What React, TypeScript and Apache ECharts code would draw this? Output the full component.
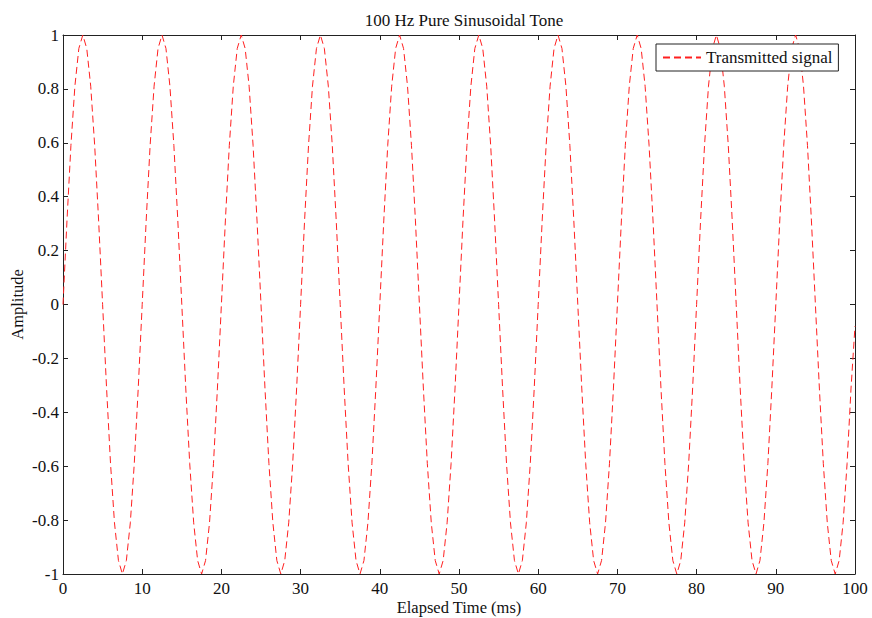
import React, { useEffect, useRef } from "react";
import * as echarts from "echarts";

const chartTitle = "100 Hz Pure Sinusoidal Tone";
const seriesName = "Transmitted signal";
const xAxisName = "Elapsed Time (ms)";
const yAxisName = "Amplitude";
const sampleStepMs = 0.5;

// Amplitude samples, one every 0.5 ms (0 .. 100 ms)
const amplitude: number[] = [
  0, 0.31, 0.59, 0.81, 0.95, 1, 0.95, 0.81, 0.59, 0.31, 0, -0.31, -0.59, -0.81, -0.95, -1, -0.95, -0.81, -0.59, -0.31,
  0, 0.31, 0.59, 0.81, 0.95, 1, 0.95, 0.81, 0.59, 0.31, 0, -0.31, -0.59, -0.81, -0.95, -1, -0.95, -0.81, -0.59, -0.31,
  0, 0.31, 0.59, 0.81, 0.95, 1, 0.95, 0.81, 0.59, 0.31, 0, -0.31, -0.59, -0.81, -0.95, -1, -0.95, -0.81, -0.59, -0.31,
  0, 0.31, 0.59, 0.81, 0.95, 1, 0.95, 0.81, 0.59, 0.31, 0, -0.31, -0.59, -0.81, -0.95, -1, -0.95, -0.81, -0.59, -0.31,
  0, 0.31, 0.59, 0.81, 0.95, 1, 0.95, 0.81, 0.59, 0.31, 0, -0.31, -0.59, -0.81, -0.95, -1, -0.95, -0.81, -0.59, -0.31,
  0, 0.31, 0.59, 0.81, 0.95, 1, 0.95, 0.81, 0.59, 0.31, 0, -0.31, -0.59, -0.81, -0.95, -1, -0.95, -0.81, -0.59, -0.31,
  0, 0.31, 0.59, 0.81, 0.95, 1, 0.95, 0.81, 0.59, 0.31, 0, -0.31, -0.59, -0.81, -0.95, -1, -0.95, -0.81, -0.59, -0.31,
  0, 0.31, 0.59, 0.81, 0.95, 1, 0.95, 0.81, 0.59, 0.31, 0, -0.31, -0.59, -0.81, -0.95, -1, -0.95, -0.81, -0.59, -0.31,
  0, 0.31, 0.59, 0.81, 0.95, 1, 0.95, 0.81, 0.59, 0.31, 0, -0.31, -0.59, -0.81, -0.95, -1, -0.95, -0.81, -0.59, -0.31,
  0, 0.31, 0.59, 0.81, 0.95, 1, 0.95, 0.81, 0.59, 0.31, 0, -0.31, -0.59, -0.81, -0.95, -1, -0.95, -0.81, -0.59, -0.31,
  -0.08,
];

const xMin = 0;
const xMax = 100;
const xInterval = 10;
const yMin = -1;
const yMax = 1;
const yInterval = 0.2;

const FONT = "'Liberation Serif', 'Times New Roman', serif";
const FS = 17;

export default function App() {
  const ref = useRef<HTMLDivElement>(null);

  useEffect(() => {
    if (!ref.current) return;
    const chart = echarts.init(ref.current, undefined, { renderer: "svg" });
    const data = amplitude.map((v, i) => [i * sampleStepMs, v]);

    const axisLine = { show: true, onZero: false, lineStyle: { color: "#222", width: 1 } };
    const tick = { show: true, inside: true, length: 5, lineStyle: { color: "#222", width: 1 } };
    const label = { color: "#111", fontFamily: FONT, fontSize: FS };

    chart.setOption({
      animation: false,
      backgroundColor: "#fff",
      title: {
        text: chartTitle,
        left: 459,
        textAlign: "center",
        top: 7,
        textStyle: { fontFamily: FONT, fontSize: FS, fontWeight: "normal", color: "#111" },
      },
      legend: {
        data: [seriesName],
        left: 656,
        top: 44,
        orient: "vertical",
        backgroundColor: "#fff",
        borderColor: "#222",
        borderWidth: 1,
        padding: [5, 6, 5, 6],
        itemWidth: 38,
        itemHeight: 16,
        itemGap: 0,
        itemStyle: { color: "transparent", borderWidth: 0, opacity: 0 },
        textStyle: { fontFamily: FONT, fontSize: FS, color: "#111" },
      },
      grid: {
        left: 63,
        right: 17,
        top: 35,
        bottom: 44,
        containLabel: false,
        outerBoundsMode: "none",
      },
      xAxis: [
        {
          type: "value",
          min: xMin,
          max: xMax,
          interval: xInterval,
          position: "bottom",
          name: xAxisName,
          nameLocation: "middle",
          nameGap: 25,
          nameMoveOverlap: false,
          nameTextStyle: { fontFamily: FONT, fontSize: 16.5, color: "#111" },
          axisLine,
          axisTick: tick,
          axisLabel: { ...label, margin: 6 },
          splitLine: { show: false },
        },
        {
          type: "value",
          min: xMin,
          max: xMax,
          interval: xInterval,
          position: "top",
          axisLine,
          axisTick: tick,
          axisLabel: { show: false },
          splitLine: { show: false },
        },
      ],
      yAxis: [
        {
          type: "value",
          min: yMin,
          max: yMax,
          interval: yInterval,
          position: "left",
          name: yAxisName,
          nameLocation: "middle",
          nameGap: 37,
          nameMoveOverlap: false,
          nameTextStyle: { fontFamily: FONT, fontSize: 16.5, color: "#111" },
          axisLine,
          axisTick: tick,
          axisLabel: { ...label, margin: 4 },
          splitLine: { show: false },
        },
        {
          type: "value",
          min: yMin,
          max: yMax,
          interval: yInterval,
          position: "right",
          axisLine,
          axisTick: tick,
          axisLabel: { show: false },
          splitLine: { show: false },
        },
      ],
      series: [
        {
          name: seriesName,
          type: "line",
          xAxisIndex: 0,
          yAxisIndex: 0,
          data,
          showSymbol: false,
          symbol: "none",
          smooth: false,
          clip: true,
          lineStyle: { color: "#ff2020", width: 1, type: [7, 4] },
          itemStyle: { color: "#ff2020" },
        },
      ],
    });

    return () => chart.dispose();
  }, []);

  return <div ref={ref} style={{ width: 872, height: 618, position: "absolute", left: 0, top: 0 }} />;
}
